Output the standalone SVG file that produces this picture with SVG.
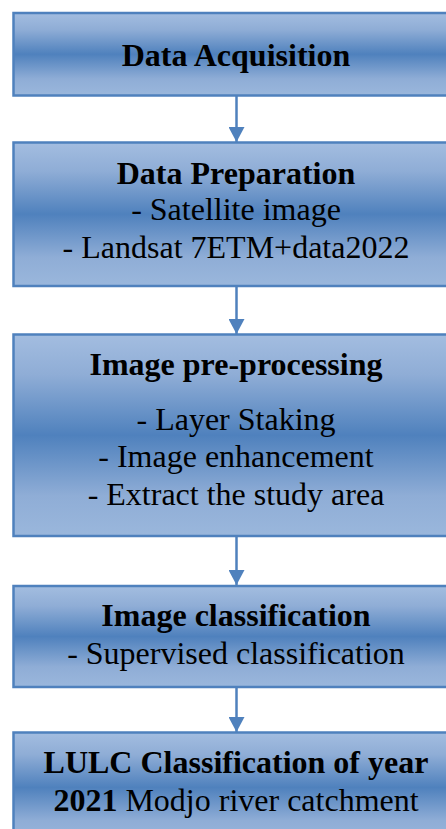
<svg xmlns="http://www.w3.org/2000/svg" width="446" height="829" viewBox="0 0 446 829">
<style>
.box{fill:url(#g);stroke:#4f81bd;stroke-width:2.5}
.t{font-family:"Liberation Serif","Times New Roman",serif;font-size:32px;fill:#000;text-anchor:middle}
.b{font-weight:bold}
.c{stroke:#4f81bd;stroke-width:2.5;fill:none;marker-end:url(#ah)}
</style>
<defs>
<linearGradient id="g" x1="0" y1="0" x2="0" y2="1">
<stop offset="0" stop-color="#a3bde0"/>
<stop offset="0.2" stop-color="#8fadd6"/>
<stop offset="0.5" stop-color="#4f81bd"/>
<stop offset="0.8" stop-color="#8fadd6"/>
<stop offset="1" stop-color="#9ab7dc"/>
</linearGradient>
<marker id="ah" markerUnits="userSpaceOnUse" markerWidth="16" markerHeight="16" refX="15" refY="8" orient="auto">
<path d="M0,0 L15,8 L0,16 z" fill="#4f81bd"/>
</marker>
</defs>
<g id="connectors">
<line class="c" x1="236.5" y1="96" x2="236.5" y2="142"/>
<line class="c" x1="236.5" y1="287" x2="236.5" y2="334"/>
<line class="c" x1="236.5" y1="537" x2="236.5" y2="585"/>
<line class="c" x1="236.5" y1="688" x2="236.5" y2="732"/>
</g>
<g id="n1">
<rect class="box" x="13.5" y="13" width="446" height="82.5"/>
<text class="t b" x="236" y="66">Data Acquisition</text>
</g>
<g id="n2">
<rect class="box" x="13.5" y="142.5" width="446" height="143.5"/>
<text class="t b" x="236" y="184">Data Preparation</text>
<text class="t" x="236" y="220">- Satellite image</text>
<text class="t" x="236" y="258">- Landsat 7ETM+data2022</text>
</g>
<g id="n3">
<rect class="box" x="13.5" y="334.5" width="446" height="201.5"/>
<text class="t b" x="236" y="375">Image pre-processing</text>
<text class="t" x="236" y="430">- Layer Staking</text>
<text class="t" x="236" y="467">- Image enhancement</text>
<text class="t" x="236" y="505">- Extract the study area</text>
</g>
<g id="n4">
<rect class="box" x="13.5" y="586" width="446" height="101"/>
<text class="t b" x="236" y="626">Image classification</text>
<text class="t" x="236" y="664">- Supervised classification</text>
</g>
<g id="n5">
<rect class="box" x="13.5" y="732.5" width="446" height="110"/>
<text class="t b" x="236" y="773">LULC Classification of year</text>
<text class="t" x="236" y="811"><tspan class="b">2021</tspan> Modjo river catchment</text>
</g>
</svg>
